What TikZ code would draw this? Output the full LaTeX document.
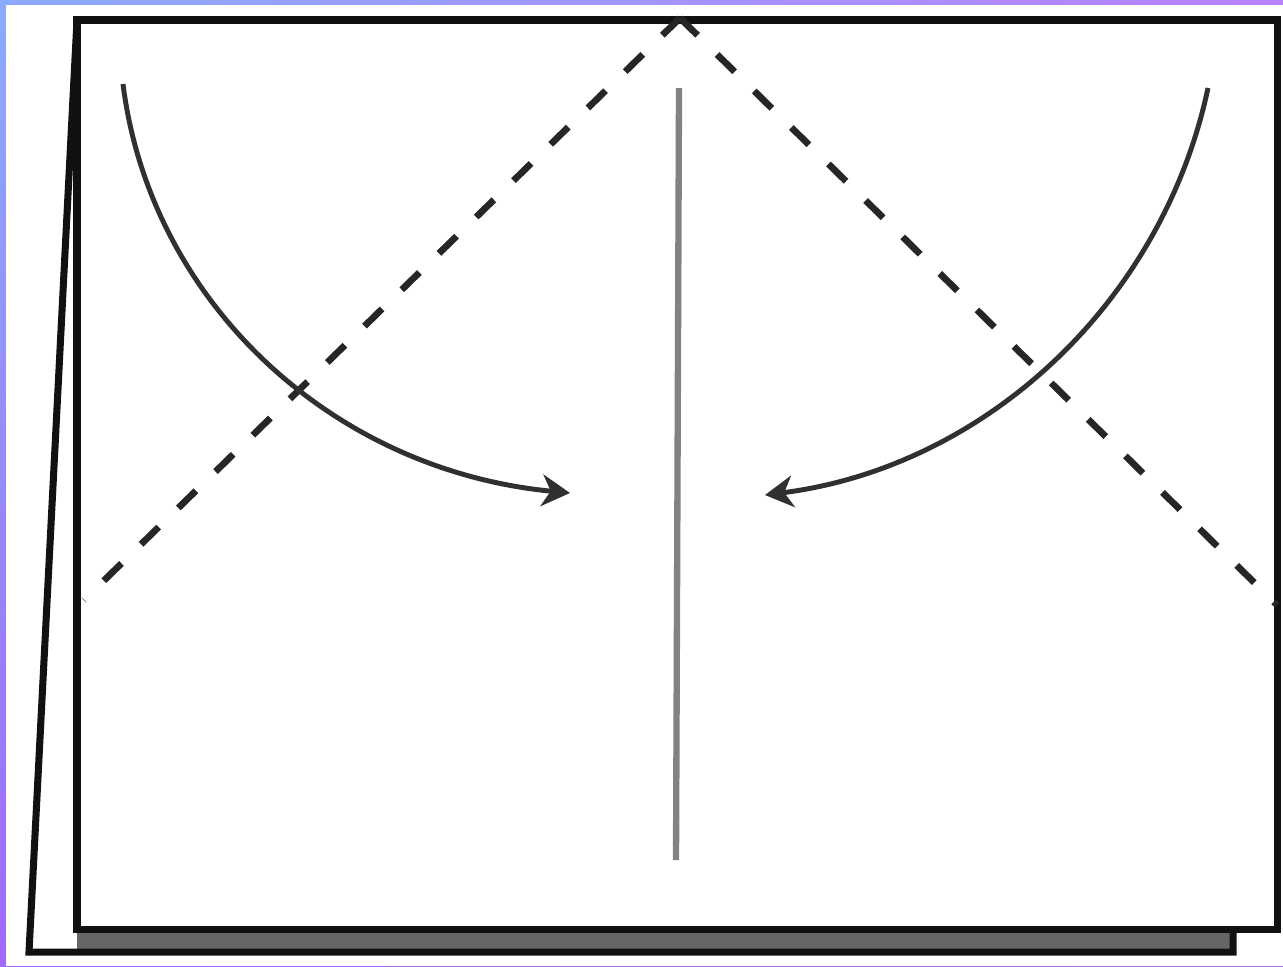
\documentclass[tikz,border=0pt]{standalone}
\usetikzlibrary{arrows.meta,shadings}
\definecolor{bgblue}{RGB}{140,170,255}
\definecolor{bgpurpA}{RGB}{185,130,255}
\definecolor{bgpurpB}{RGB}{160,105,255}
\definecolor{bgpurpC}{RGB}{175,120,255}
\definecolor{inkA}{HTML}{111111}
\definecolor{inkB}{HTML}{262626}
\definecolor{inkC}{HTML}{303030}
\definecolor{midgray}{HTML}{828282}
\definecolor{bandgray}{HTML}{666666}
\tikzset{
  framestyle/.style={line width=2pt, draw=inkA, line join=miter},
  foldline/.style={line width=1.9pt, draw=inkB, dash pattern=on 7pt off 7.8pt},
  arcarrow/.style={line width=1.4pt, draw=inkC, -{Stealth[length=8pt,width=9pt,inset=2.5pt]}},
  centerline/.style={line width=1.8pt, draw=midgray},
}
\begin{document}
\begin{tikzpicture}[x=0.01cm,y=-0.01cm]
\useasboundingbox (0,0) rectangle (1283,966);
% background
\shade[upper left=bgblue, upper right=bgpurpA, lower left=bgpurpB, lower right=bgpurpC] (0,0) rectangle (1283,966);
\fill[white] (6,5) rectangle (1283,966);
% coordinates
\coordinate (apex) at (680,18);
\coordinate (dl) at (84,600);
\coordinate (dr) at (1277,605);
\coordinate (ct) at (679,88);
\coordinate (cb) at (676,860);
\coordinate (la) at (123,84);
\coordinate (lb) at (570,493);
\coordinate (ra) at (1208,88);
\coordinate (rb) at (765,495);
% back sheet
\fill[bandgray] (77,929) rectangle (1233,952);
\draw[framestyle] (77,20) -- (29,952) -- (1233,952) -- (1233,929);
% front sheet
\draw[framestyle, fill=white] (77,20) rectangle (1277,929);
% fold lines
\draw[foldline] (apex) -- (dl);
\draw[foldline] (apex) -- (dr);
% centre crease
\draw[centerline] (ct) -- (cb);
% arrows
\draw[arcarrow] (la) .. controls (150,300) and (330,470) .. (lb);
\draw[arcarrow] (ra) .. controls (1162,304) and (984,467) .. (rb);
\end{tikzpicture}
\end{document}
